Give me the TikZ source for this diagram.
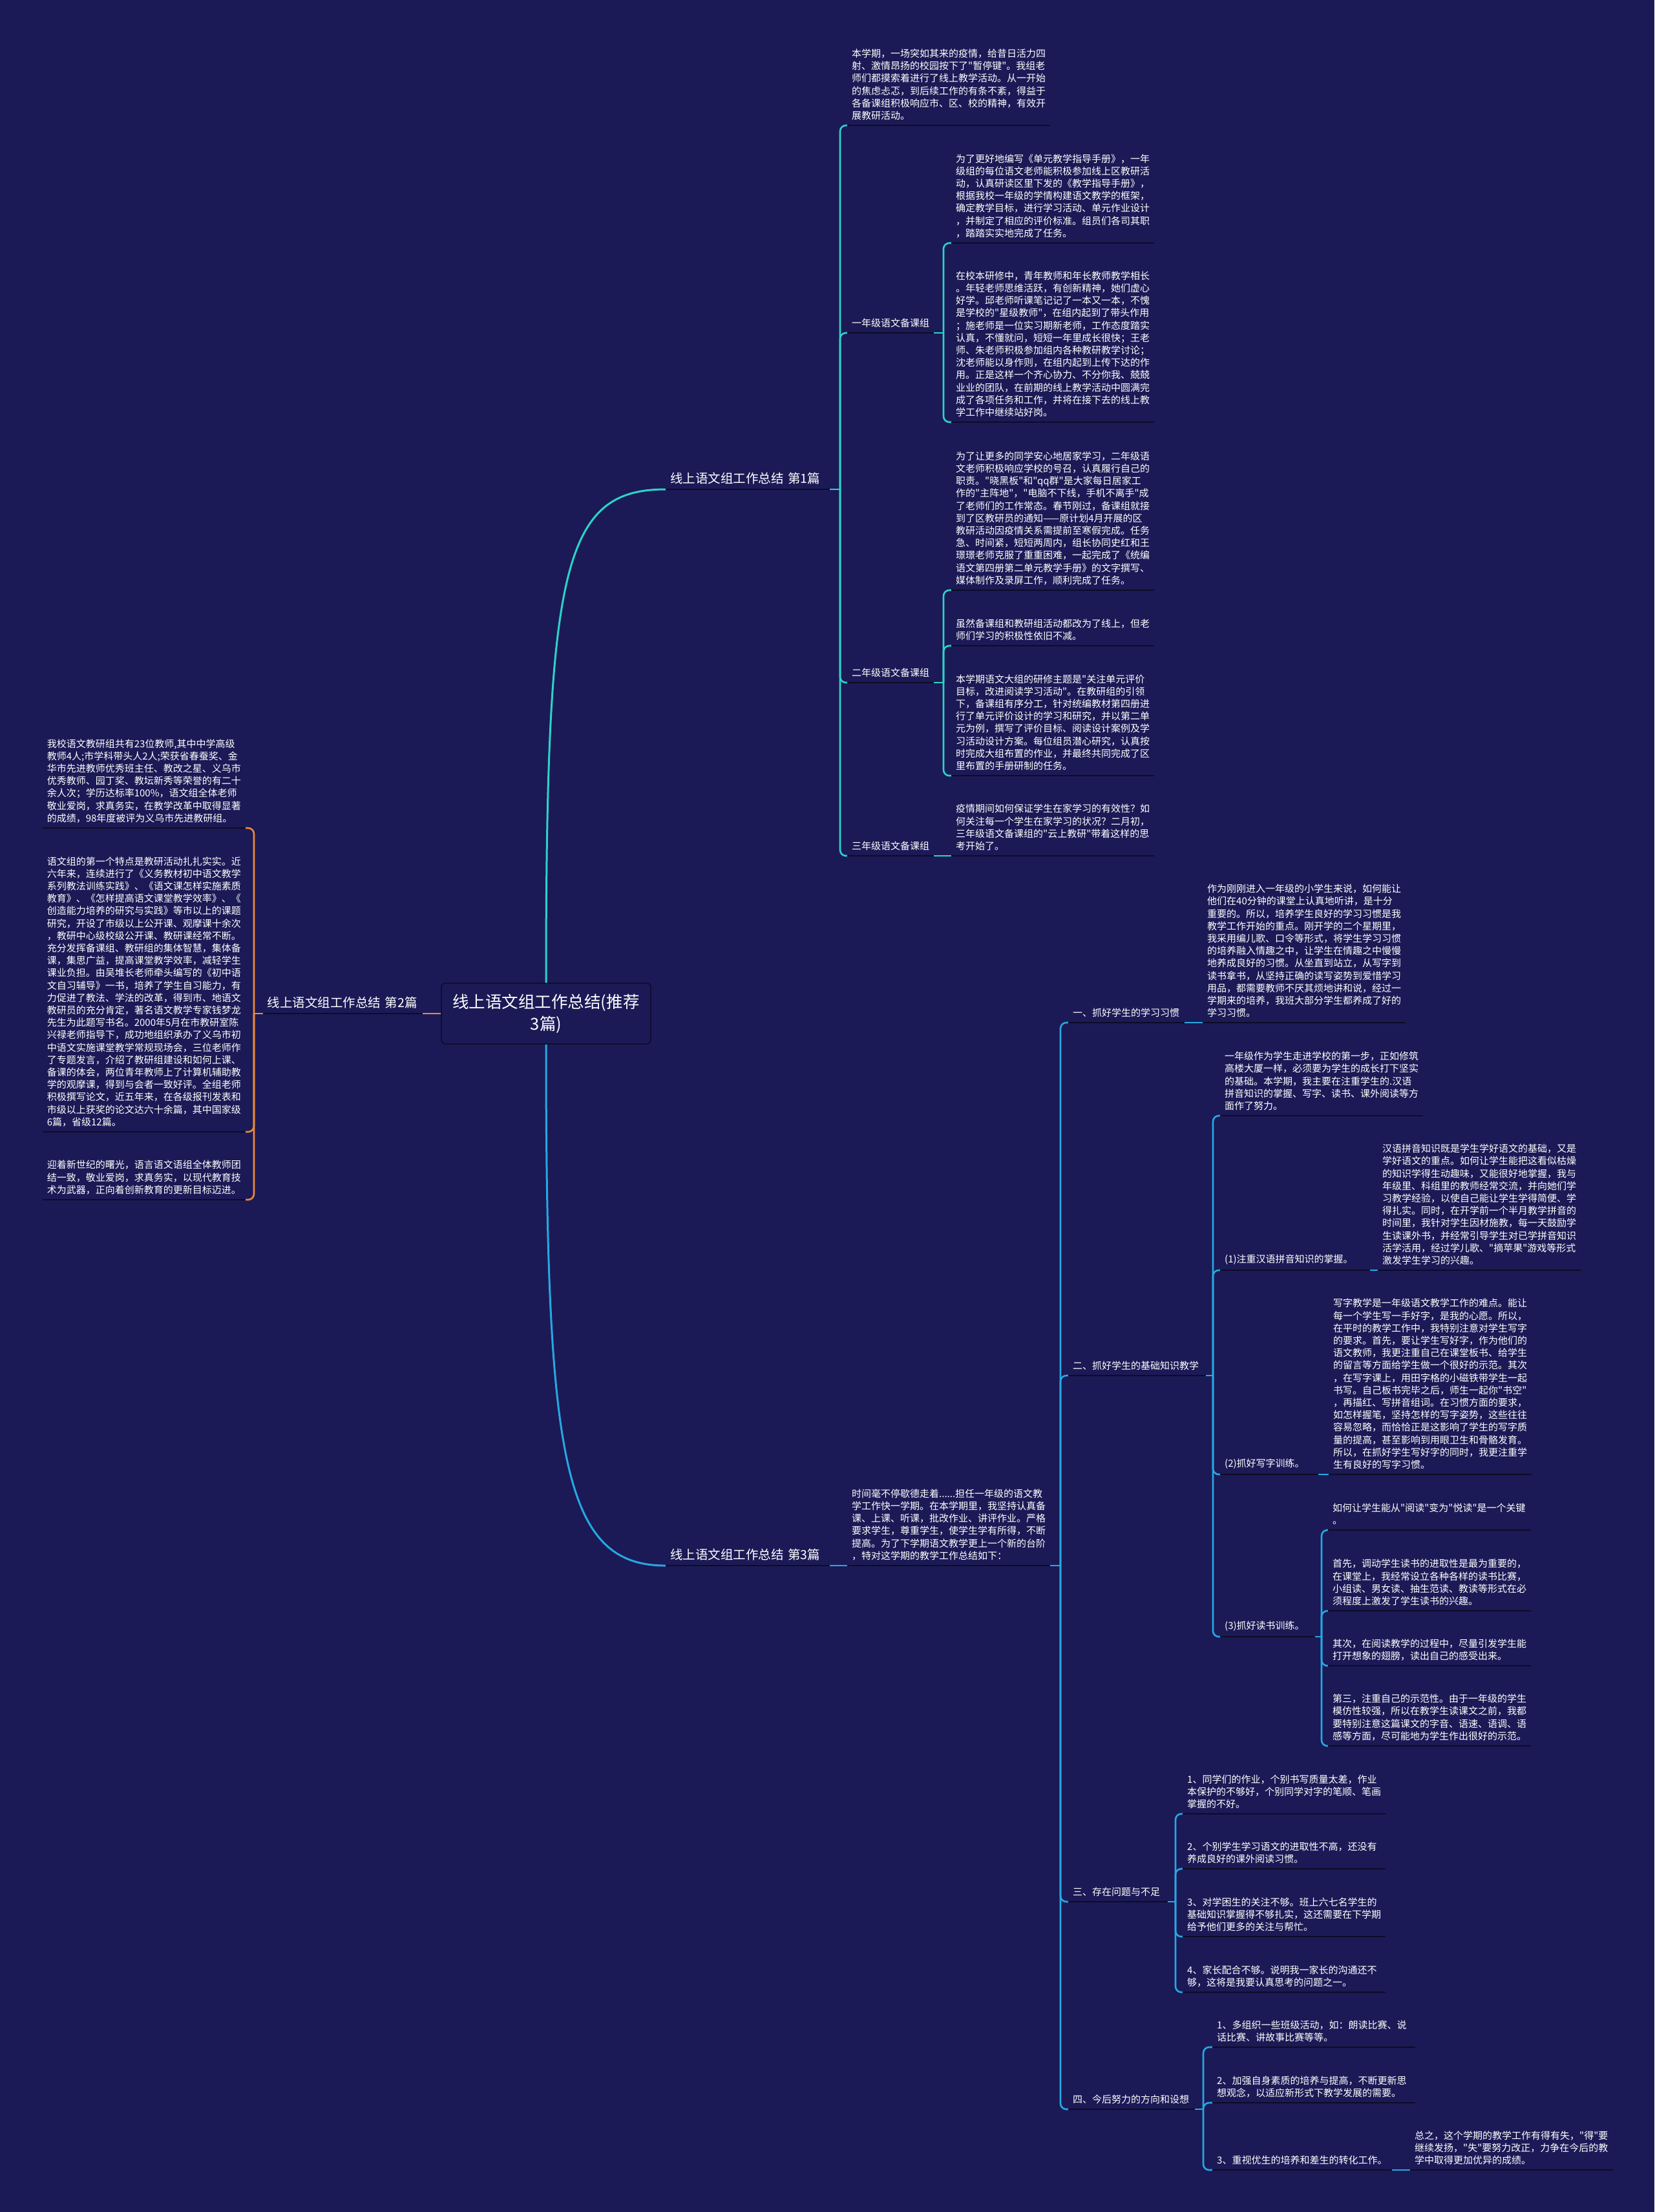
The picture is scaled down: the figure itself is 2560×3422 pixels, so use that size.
\documentclass[tikz,border=0pt]{standalone}
\usepackage{fontspec}
\setmainfont{Noto Sans CJK SC}[Ligatures=TeXOff]
\usetikzlibrary{calc}
\definecolor{bgnavy}{HTML}{1B1A56}
\definecolor{linkteal}{HTML}{2CD3C8}
\definecolor{linkblue}{HTML}{26A8E3}
\definecolor{linkorange}{HTML}{E98A3C}
\definecolor{underdark}{HTML}{0C0C26}
\newcommand{\leaffont}{\fontsize{15}{19.2}\selectfont}
\newcommand{\branchfont}{\fontsize{19.5}{24}\selectfont}
\newcommand{\rootfont}{\fontsize{25.5}{34}\selectfont}

\begin{document}
\begin{tikzpicture}[x=1pt,y=-1pt,
  leaf/.style={font=\leaffont,text=white,align=left,anchor=south west,inner xsep=7pt,inner ysep=8pt,text width=300pt},
  topic/.style={leaf,text width=#1},
  branch/.style={topic=#1,font=\branchfont},
  rootbox/.style={draw=underdark,line width=1.5pt,fill=bgnavy,rounded corners=6pt,font=\rootfont,text=white,align=center,minimum width=324pt,minimum height=94pt},
  link/.style={line width=2.6pt,rounded corners=9pt},
  under/.style={line width=2.6pt,draw=underdark}]

  \fill[bgnavy] (0,0) rectangle (2560,3422);

  % root
  \node[rootbox] (root) at (845,1568) {线上语文组工作总结(推荐\\3篇)};

  % left: 第2篇
  \node[branch=233pt,anchor=south east] (p2) at (654,1568) {线上语文组工作总结 第2篇};
  \node[leaf,anchor=south east] (l1) at (380,1281) {我校语文教研组共有23位教师,其中中学高级\\教师4人;市学科带头人2人;荣获省春蚕奖、金\\华市先进教师优秀班主任、教改之星、义乌市\\优秀教师、园丁奖、教坛新秀等荣誉的有二十\\余人次；学历达标率100\%，语文组全体老师\\敬业爱岗，求真务实，在教学改革中取得显著\\的成绩，98年度被评为义乌市先进教研组。};
  \node[leaf,anchor=south east] (l2) at (380,1751) {语文组的第一个特点是教研活动扎扎实实。近\\六年来，连续进行了《义务教材初中语文教学\\系列教法训练实践》、《语文课怎样实施素质\\教育》、《怎样提高语文课堂教学效率》、《\\创造能力培养的研究与实践》等市以上的课题\\研究，开设了市级以上公开课、观摩课十余次\\，教研中心级校级公开课、教研课经常不断。\\充分发挥备课组、教研组的集体智慧，集体备\\课，集思广益，提高课堂教学效率，减轻学生\\课业负担。由吴堆长老师牵头编写的《初中语\\文自习辅导》一书，培养了学生自习能力，有\\力促进了教法、学法的改革，得到市、地语文\\教研员的充分肯定，著名语文教学专家钱梦龙\\先生为此题写书名。2000年5月在市教研室陈\\兴禄老师指导下，成功地组织承办了义乌市初\\中语文实施课堂教学常规现场会，三位老师作\\了专题发言，介绍了教研组建设和如何上课、\\备课的体会，两位青年教师上了计算机辅助教\\学的观摩课，得到与会者一致好评。全组老师\\积极撰写论文，近五年来，在各级报刊发表和\\市级以上获奖的论文达六十余篇，其中国家级\\6篇，省级12篇。};
  \node[leaf,anchor=south east] (l3) at (380,1856) {迎着新世纪的曙光，语言语文语组全体教师团\\结一致，敬业爱岗，求真务实，以现代教育技\\术为武器，正向着创新教育的更新目标迈进。};
  \coordinate (b2) at (393,1568);
  \draw[link,linkorange] (root.west) -- (p2.south east);
  \draw[link,linkorange] (p2.south west) -- (b2);
  \foreach \c in {l1,l2,l3} \draw[link,linkorange] (b2) |- (\c.south east);

  % top: 第1篇
  \node[branch=240pt] (p1) at (1030,757) {线上语文组工作总结 第1篇};
  \draw[link,linkteal,line width=3pt] (root.north) .. controls +(0,-640) and +(-160,0) .. (p1.south west);
  \node[leaf] (a1) at (1311,194) {本学期，一场突如其来的疫情，给昔日活力四\\射、激情昂扬的校园按下了"暂停键"。我组老\\师们都摸索着进行了线上教学活动。从一开始\\的焦虑忐忑，到后续工作的有条不紊，得益于\\各备课组积极响应市、区、校的精神，有效开\\展教研活动。};
  \node[topic=120pt] (g1) at (1311,515) {一年级语文备课组};
  \node[topic=120pt] (g2) at (1311,1056) {二年级语文备课组};
  \node[topic=120pt] (g3) at (1311,1324) {三年级语文备课组};
  \coordinate (b1) at (1300,757);
  \draw[link,linkteal] (p1.south east) -- (b1);
  \foreach \c in {a1,g1,g2,g3} \draw[link,linkteal] (b1) |- (\c.south west);

  \node[leaf] (g1a) at (1472,376) {为了更好地编写《单元教学指导手册》，一年\\级组的每位语文老师能积极参加线上区教研活\\动，认真研读区里下发的《教学指导手册》，\\根据我校一年级的学情构建语文教学的框架，\\确定教学目标，进行学习活动、单元作业设计\\，并制定了相应的评价标准。组员们各司其职\\，踏踏实实地完成了任务。};
  \node[leaf] (g1b) at (1472,653) {在校本研修中，青年教师和年长教师教学相长\\。年轻老师思维活跃，有创新精神，她们虚心\\好学。邱老师听课笔记记了一本又一本，不愧\\是学校的"星级教师"，在组内起到了带头作用\\；施老师是一位实习期新老师，工作态度踏实\\认真，不懂就问，短短一年里成长很快；王老\\师、朱老师积极参加组内各种教研教学讨论；\\沈老师能以身作则，在组内起到上传下达的作\\用。正是这样一个齐心协力、不分你我、兢兢\\业业的团队，在前期的线上教学活动中圆满完\\成了各项任务和工作，并将在接下去的线上教\\学工作中继续站好岗。};
  \coordinate (b11) at (1460,515);
  \draw[link,linkteal] (g1.south east) -- (b11);
  \foreach \c in {g1a,g1b} \draw[link,linkteal] (b11) |- (\c.south west);

  \node[leaf] (g2a) at (1472,913) {为了让更多的同学安心地居家学习，二年级语\\文老师积极响应学校的号召，认真履行自己的\\职责。"晓黑板"和"qq群"是大家每日居家工\\作的"主阵地"，"电脑不下线，手机不离手"成\\了老师们的工作常态。春节刚过，备课组就接\\到了区教研员的通知——原计划4月开展的区\\教研活动因疫情关系需提前至寒假完成。任务\\急、时间紧，短短两周内，组长协同史红和王\\璟璟老师克服了重重困难，一起完成了《统编\\语文第四册第二单元教学手册》的文字撰写、\\媒体制作及录屏工作，顺利完成了任务。};
  \node[leaf] (g2b) at (1472,999) {虽然备课组和教研组活动都改为了线上，但老\\师们学习的积极性依旧不减。};
  \node[leaf] (g2c) at (1472,1200) {本学期语文大组的研修主题是"关注单元评价\\目标，改进阅读学习活动"。在教研组的引领\\下，备课组有序分工，针对统编教材第四册进\\行了单元评价设计的学习和研究，并以第二单\\元为例，撰写了评价目标、阅读设计案例及学\\习活动设计方案。每位组员潜心研究，认真按\\时完成大组布置的作业，并最终共同完成了区\\里布置的手册研制的任务。};
  \coordinate (b12) at (1460,1056);
  \draw[link,linkteal] (g2.south east) -- (b12);
  \foreach \c in {g2a,g2b,g2c} \draw[link,linkteal] (b12) |- (\c.south west);

  \node[leaf] (g3a) at (1472,1324) {疫情期间如何保证学生在家学习的有效性？如\\何关注每一个学生在家学习的状况？二月初，\\三年级语文备课组的"云上教研"带着这样的思\\考开始了。};
  \draw[link,linkteal] (g3.south east) -- (g3a.south west);

  % bottom: 第3篇
  \node[branch=240pt] (p3) at (1030,2422) {线上语文组工作总结 第3篇};
  \draw[link,linkblue,line width=3pt] (root.south) .. controls +(0,640) and +(-160,0) .. (p3.south west);
  \node[leaf] (t0) at (1311,2422) {时间毫不停歇德走着......担任一年级的语文教\\学工作快一学期。在本学期里，我坚持认真备\\课、上课、听课，批改作业、讲评作业。严格\\要求学生，尊重学生，使学生学有所得，不断\\提高。为了下学期语文教学更上一个新的台阶\\，特对这学期的教学工作总结如下：};
  \draw[link,linkblue] (p3.south east) -- (t0.south west);
  \node[topic=166pt] (s1) at (1653,1582) {一、抓好学生的学习习惯};
  \node[topic=199pt] (s2) at (1653,2128) {二、抓好学生的基础知识教学};
  \node[topic=140pt] (s3) at (1653,2942) {三、存在问题与不足};
  \node[topic=182pt] (s4) at (1653,3263) {四、今后努力的方向和设想};
  \coordinate (b3) at (1641,2422);
  \draw[link,linkblue] (t0.south east) -- (b3);
  \foreach \c in {s1,s2,s3,s4} \draw[link,linkblue] (b3) |- (\c.south west);

  \node[leaf] (s1a) at (1861,1582) {作为刚刚进入一年级的小学生来说，如何能让\\他们在40分钟的课堂上认真地听讲，是十分\\重要的。所以，培养学生良好的学习习惯是我\\教学工作开始的重点。刚开学的二个星期里，\\我采用编儿歌、口令等形式，将学生学习习惯\\的培养融入情趣之中，让学生在情趣之中慢慢\\地养成良好的习惯。从坐直到站立，从写字到\\读书拿书，从坚持正确的读写姿势到爱惜学习\\用品，都需要教师不厌其烦地讲和说，经过一\\学期来的培养，我班大部分学生都养成了好的\\学习习惯。};
  \draw[link,linkblue] (s1.south east) -- (s1a.south west);

  \node[leaf] (s2a) at (1888,1726) {一年级作为学生走进学校的第一步，正如修筑\\高楼大厦一样，必须要为学生的成长打下坚实\\的基础。本学期，我主要在注重学生的.汉语\\拼音知识的掌握、写字、读书、课外阅读等方\\面作了努力。};
  \node[topic=218pt] (s2b) at (1888,1965) {(1)注重汉语拼音知识的掌握。};
  \node[topic=138pt] (s2c) at (1888,2281) {(2)抓好写字训练。};
  \node[topic=133pt] (s2d) at (1888,2532) {(3)抓好读书训练。};
  \coordinate (b32) at (1877,2128);
  \draw[link,linkblue] (s2.south east) -- (b32);
  \foreach \c in {s2a,s2b,s2c,s2d} \draw[link,linkblue] (b32) |- (\c.south west);

  \node[leaf] (s2b1) at (2132,1965) {汉语拼音知识既是学生学好语文的基础，又是\\学好语文的重点。如何让学生能把这看似枯燥\\的知识学得生动趣味，又能很好地掌握，我与\\年级里、科组里的教师经常交流，并向她们学\\习教学经验，以使自己能让学生学得简便、学\\得扎实。同时，在开学前一个半月教学拼音的\\时间里，我针对学生因材施教，每一天鼓励学\\生读课外书，并经常引导学生对已学拼音知识\\活学活用，经过学儿歌、"摘苹果"游戏等形式\\激发学生学习的兴趣。};
  \draw[link,linkblue] (s2b.south east) -- (s2b1.south west);
  \node[leaf] (s2c1) at (2056,2281) {写字教学是一年级语文教学工作的难点。能让\\每一个学生写一手好字，是我的心愿。所以，\\在平时的教学工作中，我特别注意对学生写字\\的要求。首先，要让学生写好字，作为他们的\\语文教师，我更注重自己在课堂板书、给学生\\的留言等方面给学生做一个很好的示范。其次\\，在写字课上，用田字格的小磁铁带学生一起\\书写。自己板书完毕之后，师生一起你"书空"\\，再描红、写拼音组词。在习惯方面的要求，\\如怎样握笔，坚持怎样的写字姿势，这些往往\\容易忽略，而恰恰正是这影响了学生的写字质\\量的提高，甚至影响到用眼卫生和骨骼发育。\\所以，在抓好学生写好字的同时，我更注重学\\生有良好的写字习惯。};
  \draw[link,linkblue] (s2c.south east) -- (s2c1.south west);

  \node[leaf] (s2d1) at (2055,2367) {如何让学生能从"阅读"变为"悦读"是一个关键\\。};
  \node[leaf] (s2d2) at (2055,2492) {首先，调动学生读书的进取性是最为重要的，\\在课堂上，我经常设立各种各样的读书比赛，\\小组读、男女读、抽生范读、教读等形式在必\\须程度上激发了学生读书的兴趣。};
  \node[leaf] (s2d3) at (2055,2577) {其次，在阅读教学的过程中，尽量引发学生能\\打开想象的翅膀，读出自己的感受出来。};
  \node[leaf] (s2d4) at (2055,2701) {第三，注重自己的示范性。由于一年级的学生\\模仿性较强，所以在教学生读课文之前，我都\\要特别注意这篇课文的字音、语速、语调、语\\感等方面，尽可能地为学生作出很好的示范。};
  \coordinate (b323) at (2045,2532);
  \draw[link,linkblue] (s2d.south east) -- (b323);
  \foreach \c in {s2d1,s2d2,s2d3,s2d4} \draw[link,linkblue] (b323) |- (\c.south west);

  \node[leaf] (s3a) at (1830,2806) {1、同学们的作业，个别书写质量太差，作业\\本保护的不够好，个别同学对字的笔顺、笔画\\掌握的不好。};
  \node[leaf] (s3b) at (1830,2891) {2、个别学生学习语文的进取性不高，还没有\\养成良好的课外阅读习惯。};
  \node[leaf] (s3c) at (1830,2996) {3、对学困生的关注不够。班上六七名学生的\\基础知识掌握得不够扎实，这还需要在下学期\\给予他们更多的关注与帮忙。};
  \node[leaf] (s3d) at (1830,3082) {4、家长配合不够。说明我一家长的沟通还不\\够，这将是我要认真思考的问题之一。};
  \coordinate (b33) at (1819,2942);
  \draw[link,linkblue] (s3.south east) -- (b33);
  \foreach \c in {s3a,s3b,s3c,s3d} \draw[link,linkblue] (b33) |- (\c.south west);

  \node[leaf] (s4a) at (1876,3167) {1、多组织一些班级活动，如：朗读比赛、说\\话比赛、讲故事比赛等等。};
  \node[leaf] (s4b) at (1876,3253) {2、加强自身素质的培养与提高，不断更新思\\想观念，以适应新形式下教学发展的需要。};
  \node[topic=264pt] (s4c) at (1876,3357) {3、重视优生的培养和差生的转化工作。};
  \coordinate (b34) at (1862,3263);
  \draw[link,linkblue] (s4.south east) -- (b34);
  \foreach \c in {s4a,s4b,s4c} \draw[link,linkblue] (b34) |- (\c.south west);
  \node[leaf] (s4c1) at (2182,3357) {总之，这个学期的教学工作有得有失，"得"要\\继续发扬，"失"要努力改正，力争在今后的教\\学中取得更加优异的成绩。};
  \draw[link,linkblue] (s4c.south east) -- (s4c1.south west);

  % underlines
  \foreach \n in {p2,l1,l2,l3,p1,a1,g1,g1a,g1b,g2,g2a,g2b,g2c,g3,g3a,p3,t0,s1,s1a,s2,s2a,s2b,s2b1,s2c,s2c1,s2d,s2d1,s2d2,s2d3,s2d4,s3,s3a,s3b,s3c,s3d,s4,s4a,s4b,s4c,s4c1}
    \draw[under] (\n.south west) -- (\n.south east);
\end{tikzpicture}
\end{document}
